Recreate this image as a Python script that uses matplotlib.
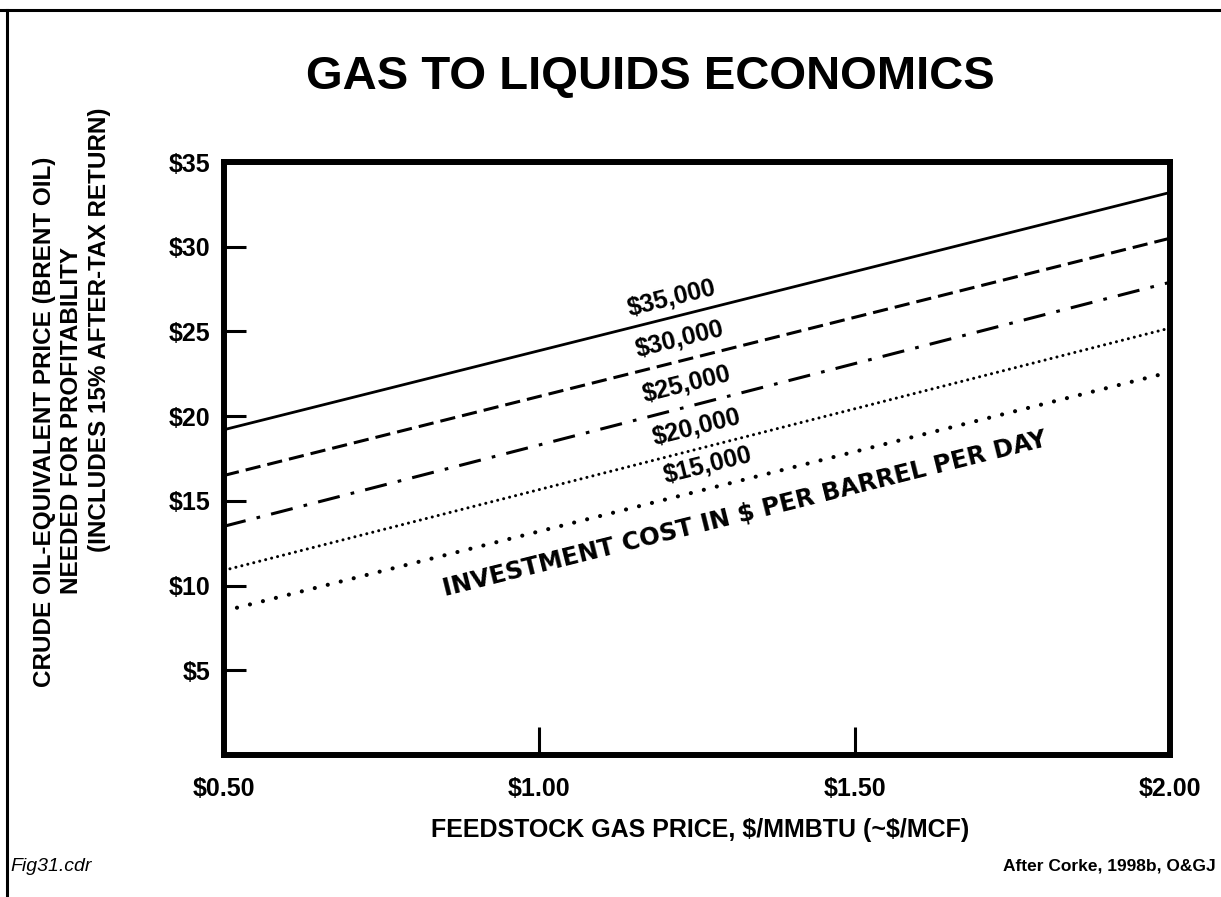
import matplotlib
matplotlib.use("Agg")
import matplotlib.pyplot as plt
from matplotlib.lines import Line2D

plt.rcParams['font.family'] = ['Liberation Sans', 'DejaVu Sans']
plt.rcParams['font.weight'] = 'bold'
plt.rcParams['text.parse_math'] = False

# feedstock gas price ($/MMBTU) at the two ends of each line
gas_price = [0.5, 2.0]

# crude oil-equivalent price needed, one line per investment cost
cost_labels = ["$35,000", "$30,000", "$25,000", "$20,000", "$15,000"]
price_35k = [19.2, 33.2]
price_30k = [16.5, 30.5]
price_25k = [13.5, 27.9]
price_20k = [10.9, 25.2]
price_15k = [8.5, 22.6]

# where the cost labels sit (data coords)
label_x = [1.21, 1.223, 1.234, 1.25, 1.267]
label_y = [26.96, 24.5, 21.9, 19.35, 17.1]

xticks = [0.5, 1.0, 1.5, 2.0]
xtick_labels = ["$0.50", "$1.00", "$1.50", "$2.00"]
yticks = [5, 10, 15, 20, 25, 30, 35]
ytick_labels = ["$5", "$10", "$15", "$20", "$25", "$30", "$35"]

fig = plt.figure(figsize=(12.21, 8.97), dpi=100)
ax = fig.add_axes([224/1221, 1 - 755/897, (1170-224)/1221, (755-162)/897])

ax.plot(gas_price, price_35k, color='black', lw=2.0, solid_capstyle='butt')
ax.plot(gas_price, price_30k, color='black', lw=2.2, dashes=(5, 2.3))
ax.plot(gas_price, price_25k, color='black', lw=2.2, dashes=(7.3, 3.7, 1.2, 3.7))
ax.plot(gas_price, price_20k, color='black', lw=2.2, dashes=(0.01, 2.0),
        dash_capstyle='round')
ax.plot(gas_price, price_15k, color='black', lw=3.0, dashes=(0.01, 3.2),
        dash_capstyle='round')

for lab, lx, ly in zip(cost_labels, label_x, label_y):
    ax.text(lx, ly, lab, rotation=14, rotation_mode='anchor', ha='center',
            va='center', fontsize=18, fontweight='bold')

ax.text(1.326, 14.2, "INVESTMENT COST IN $ PER BARREL PER DAY",
        rotation=14, rotation_mode='anchor', ha='center', va='center',
        fontsize=17.5, fontweight='bold', family=['DejaVu Sans'])

ax.set_xlim(0.5, 2.0)
ax.set_ylim(0, 35)
for s in ax.spines.values():
    s.set_linewidth(4.3)

ax.set_xticks(xticks)
ax.set_xticklabels(xtick_labels, fontsize=18, fontweight='bold')
ax.set_yticks(yticks)
ax.set_yticklabels(ytick_labels, fontsize=18, fontweight='bold')
ax.tick_params(axis='y', direction='in', length=16, width=2.2, pad=10)
ax.tick_params(axis='x', direction='in', length=20, width=2.2, pad=16)
ax.yaxis.get_major_ticks()[-1].tick1line.set_visible(False)
xt = ax.xaxis.get_major_ticks()
xt[0].tick1line.set_visible(False)
xt[-1].tick1line.set_visible(False)

fig.text(650/1221, 1 - 77/897, "GAS TO LIQUIDS ECONOMICS", ha='center',
         va='center', fontsize=34, fontweight='bold')

fig.text(700/1221, 1 - 830/897, "FEEDSTOCK GAS PRICE, $/MMBTU (~$/MCF)",
         ha='center', va='center', fontsize=18, fontweight='bold')

ylab_lines = ["CRUDE OIL-EQUIVALENT PRICE (BRENT OIL)",
              "NEEDED FOR PROFITABILITY",
              "(INCLUDES 15% AFTER-TAX RETURN)"]
ylab_x = [45, 72, 100]
ylab_y = [422, 420, 330]
for t, px, py in zip(ylab_lines, ylab_x, ylab_y):
    fig.text(px/1221, 1 - py/897, t, rotation=90, ha='center', va='center',
             fontsize=17.5, fontweight='bold')

fig.text(10/1221, 1 - 866/897, "Fig31.cdr", ha='left', va='center',
         fontsize=14, fontweight='normal', style='italic')
fig.text(1216/1221, 1 - 866/897, "After Corke, 1998b, O&GJ", ha='right',
         va='center', fontsize=12.5, fontweight='bold')

# page frame lines (left and top)
fig.add_artist(Line2D([7/1221, 7/1221], [0, 1 - 10/897], color='black',
                      lw=2.2, transform=fig.transFigure))
fig.add_artist(Line2D([0, 1], [1 - 10/897, 1 - 10/897], color='black',
                      lw=2.2, transform=fig.transFigure))

fig.savefig("out.png", dpi=100)
